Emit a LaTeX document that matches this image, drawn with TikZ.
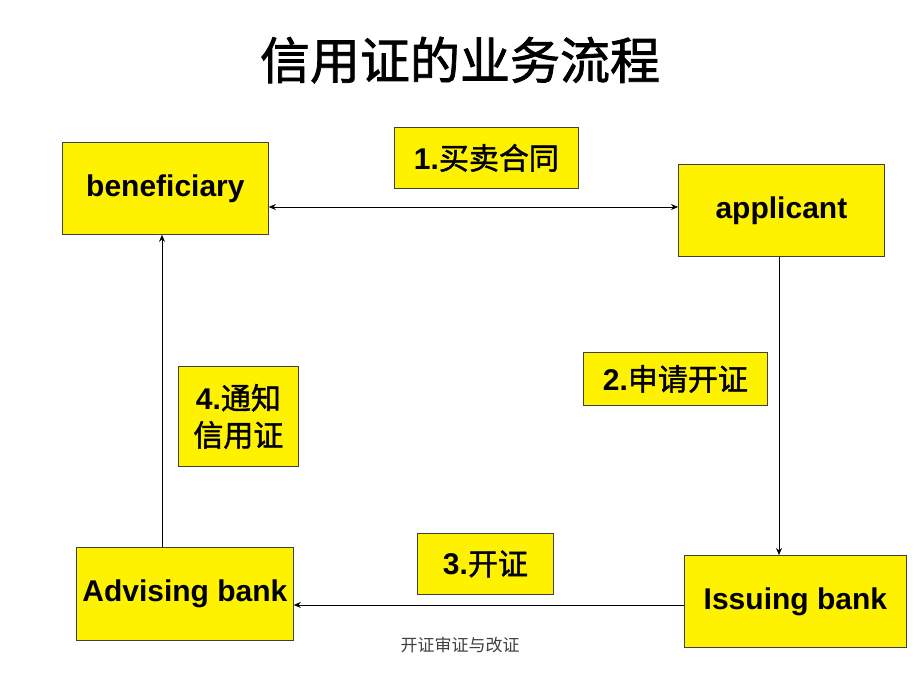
\documentclass[tikz,border=0pt]{standalone}
\usepackage{fontspec}
\setmainfont{Liberation Sans}
\newfontfamily\cjk{Noto Sans CJK SC}
\newfontfamily\cjkb[FakeBold=1.5]{Noto Sans CJK SC}
\newcommand{\zh}[1]{{\mdseries\cjkb #1}}
\usetikzlibrary{arrows.meta}
\begin{document}
\begin{tikzpicture}[x=1pt,y=-1pt,
  ybox/.style={draw=black!75,line width=0.8pt,fill=yellow,inner sep=0pt,anchor=north west,align=center},
  btxt/.style={font=\fontsize{30}{34}\selectfont\bfseries},
  ctxt/.style={font=\fontsize{30}{37}\selectfont\bfseries},
  conn/.style={line width=0.7pt,-{Stealth[length=7pt,width=6pt]}},
  conn2/.style={line width=0.7pt,{Stealth[length=7pt,width=6pt]}-{Stealth[length=7pt,width=6pt]}}]
\useasboundingbox (0,0) rectangle (920,690);
\node[font=\fontsize{50}{60}\selectfont\mdseries\cjkb] (title) at (460,60) {信用证的业务流程};
\node[ybox,btxt,minimum width=206pt,minimum height=92pt] (ben) at (62,142) {beneficiary};
\node[ybox,ctxt,minimum width=184pt,minimum height=61pt] (l1) at (394,127) {1.\zh{买卖合同}};
\node[ybox,btxt,minimum width=206pt,minimum height=92pt] (app) at (678,164) {applicant};
\node[ybox,ctxt,minimum width=184pt,minimum height=53pt] (l2) at (583,352) {2.\zh{申请开证}};
\node[ybox,ctxt,minimum width=120pt,minimum height=100pt] (l4) at (178,366) {4.\zh{通知}\\\zh{信用证}};
\node[ybox,btxt,minimum width=217pt,minimum height=93pt] (adv) at (76,547) {Advising bank};
\node[ybox,ctxt,minimum width=136pt,minimum height=61pt] (l3) at (417,533) {3.\zh{开证}};
\node[ybox,btxt,minimum width=222pt,minimum height=92pt] (iss) at (684,555) {Issuing bank};
\node[font=\fontsize{17}{20}\selectfont\cjk,text=black!75] (foot) at (460,645) {开证审证与改证};
\draw[conn2] (ben.east|-0,207) -- (app.west|-0,207);
\draw[conn] (app.south-|779,0) -- (iss.north-|779,0);
\draw[conn] (adv.north-|162,0) -- (ben.south-|162,0);
\draw[conn] (iss.west|-0,605) -- (adv.east|-0,605);
\end{tikzpicture}
\end{document}
